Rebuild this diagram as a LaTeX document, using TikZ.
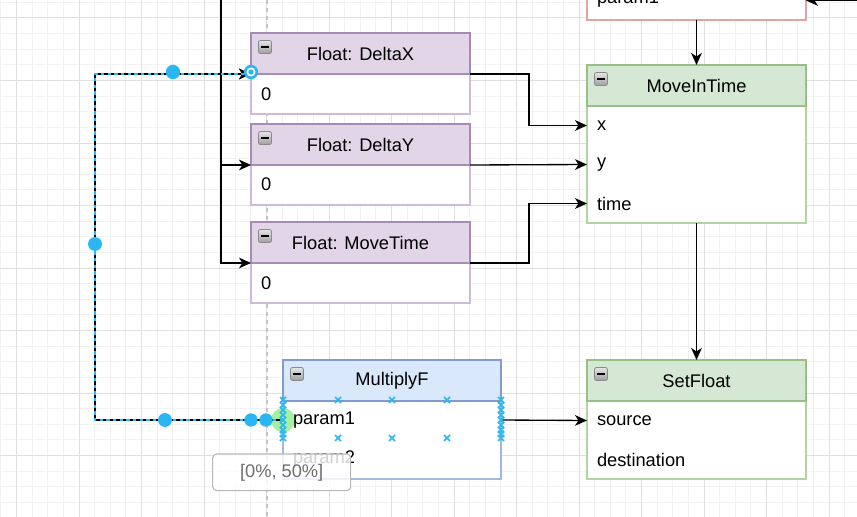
\documentclass[tikz,border=0pt]{standalone}
\usepackage{fontspec}
\setmainfont{Liberation Sans}
\usetikzlibrary{arrows.meta,calc}
\definecolor{purpF}{HTML}{E1D5E7}
\definecolor{purpS}{HTML}{A58BB5}
\definecolor{purpL}{HTML}{CDBBD8}
\definecolor{grnF}{HTML}{D5E8D4}
\definecolor{grnS}{HTML}{97C086}
\definecolor{grnL}{HTML}{B3D3A3}
\definecolor{bluF}{HTML}{DAE8FC}
\definecolor{bluS}{HTML}{7F9CCB}
\definecolor{bluL}{HTML}{A3B9DB}
\definecolor{redS}{HTML}{E3A3A3}
\definecolor{selB}{HTML}{29B6F2}
\definecolor{gridMaj}{HTML}{DFDFDF}
\definecolor{gridMin}{HTML}{F2F2F2}
\definecolor{guideG}{HTML}{C4C4C4}
\definecolor{tipG}{HTML}{6E6E6E}
\definecolor{tipB}{HTML}{B8B8B8}
\definecolor{hoverG}{HTML}{A4F09E}
\definecolor{iconS}{HTML}{8A8A8A}
\newcommand\fs{\fontsize{13.7pt}{16pt}\selectfont}
\newcommand\cicon[2]{%
  \draw[draw=iconS, line width=0.6pt, top color=white!90!black, bottom color=white!62!black, rounded corners=1.5pt]
    ({#1-6.5},{#2-6.5}) rectangle ({#1+6.5},{#2+6.5});
  \draw[line width=1.6pt] ({#1-4},{#2}) -- ({#1+4},{#2});}
\tikzset{
  hdr/.style={rectangle, draw, anchor=north west, inner sep=0pt, outer sep=0pt,
    minimum width=164.25pt, minimum height=30.75pt, font=\fs, line width=0.8pt},
  hdrP/.style={hdr, fill=purpF, draw=purpS},
  hdrG/.style={hdr, fill=grnF, draw=grnS},
  hdrB/.style={hdr, fill=bluF, draw=bluS, minimum width=163.5pt},
  boxbody/.style={rectangle, fill=white, anchor=north west, inner sep=0pt, outer sep=0pt,
    minimum width=164.25pt, line width=0.8pt},
  row/.style={anchor=west, inner xsep=7.5pt, inner ysep=0pt, outer sep=0pt,
    minimum height=29.25pt, text width=149.25pt, align=left, font=\fs},
  edge/.style={draw=black, line width=1pt, -{Stealth[length=9pt,width=8pt,inset=2.6pt]}},
  seldash/.style={draw=selB, line width=1.2pt, dash pattern=on 2.5pt off 2.5pt},
  xmark/.style={draw=selB, line width=1.1pt},
  tooltip/.style={draw=tipB, fill=white, fill opacity=0.82, text opacity=1, rounded corners=3pt,
    minimum width=103.5pt, minimum height=27.5pt, text=tipG, font=\fs, line width=0.8pt},
}
\begin{document}
\begin{tikzpicture}[x=0.75pt,y=-0.75pt]
\useasboundingbox (0,0) rectangle (857,517);
\clip (0,0) rectangle (857,517);
\fill[white] (0,0) rectangle (857,517);
% grid
\foreach \i in {0,...,55} \draw[gridMin, line width=0.75pt] ({0.875+15.625*\i},0) -- ({0.875+15.625*\i},517);
\foreach \i in {0,...,33} \draw[gridMin, line width=0.75pt] (0,{2.375+15.625*\i}) -- (857,{2.375+15.625*\i});
\foreach \i in {0,...,13} \draw[gridMaj, line width=0.75pt] ({16.5+62.5*\i},0) -- ({16.5+62.5*\i},517);
\foreach \i in {0,...,8} \draw[gridMaj, line width=0.75pt] (0,{18+62.5*\i}) -- (857,{18+62.5*\i});
% guide
\draw[guideG, line width=0.8pt, dash pattern=on 3pt off 3pt] (267,0) -- (267,517);

% top (partially visible) box
\node[boxbody, draw=redS, anchor=south west, minimum height=45pt] (topb) at (587,20) {};
\node[row] (tp1) at (587,-1) {param1};

% Float: DeltaX
\node[boxbody, draw=purpL, minimum height=30pt] (dxb) at (251,74) {};
\node[hdrP] (dxh) at (251,33) {Float: DeltaX};
\node[row] (dx0) at (251,94) {0};
\cicon{265}{47}
% Float: DeltaY
\node[boxbody, draw=purpL, minimum height=30pt] (dyb) at (251,165) {};
\node[hdrP] (dyh) at (251,124) {Float: DeltaY};
\node[row] (dy0) at (251,184.5) {0};
\cicon{265}{138}
% Float: MoveTime
\node[boxbody, draw=purpL, minimum height=30pt] (mtb) at (251,263) {};
\node[hdrP] (mth) at (251,222) {Float: MoveTime};
\node[row] (mt0) at (251,283) {0};
\cicon{265}{236}

% MoveInTime
\node[boxbody, draw=grnL, minimum height=87.75pt] (mib) at (587,106) {};
\node[hdrG] (mih) at (587,65) {MoveInTime};
\node[row] (mix) at (587,125.5) {x};
\node[row] (miy) at (587,164.5) {y};
\node[row] (mitime) at (587,203.5) {time};
\cicon{601}{79}

% SetFloat
\node[boxbody, draw=grnL, minimum height=58.5pt] (sfb) at (587,401) {};
\node[hdrG] (sfh) at (587,360) {SetFloat};
\node[row] (sfsrc) at (587,420.5) {source};
\node[row] (sfdst) at (587,459.5) {destination};
\cicon{601}{374}

% MultiplyF
\node[boxbody, draw=bluL, minimum width=163.5pt, minimum height=58.5pt] (mfb) at (283,401) {};
\node[hdrB] (mfh) at (283,360) {MultiplyF};
\cicon{297}{374}

% connectors
\coordinate (srcA) at (221,-10);
\coordinate (inR) at (880,0.5);
\coordinate (bendL) at (95,244);
\draw[edge] (srcA) |- (dxh.south west);
\draw[edge] (srcA) |- (dyh.south west);
\draw[edge] (srcA) |- (mth.south west);
\draw[edge] (inR) -- (topb.east |- inR);
\draw[edge] (topb.south) -- (mih.north);
\draw[edge] (dxh.south east) -- ++(59,0) |- (mix.west);
\draw[edge] (dyh.south east) -- (miy.west);
\draw[edge] (mth.south east) -- ++(59,0) |- (mitime.west);
\draw[edge] (mib.south) -- (sfh.north);

% hover circle under the row text
\fill[hoverG] (283,420) circle[radius=9pt];
\node[row, text width=148.5pt] (mfp1) at (283,420) {param1};
\node[row, text width=148.5pt] (mfp2) at (283,459.5) {param2};
\draw[edge] (mfp1.east) -- (sfsrc.west);

% selected connector
\draw[edge] (mfp1.west) -| (bendL) |- (dxh.south west);
\draw[seldash] (mfp1.west) -| (bendL) |- ($(dxh.south west)+(-4,0)$);

% connection markers
\foreach \cx in {283,338,392,447,501} {
  \foreach \cy in {400,438} {
    \draw[xmark] ({\cx-3},{\cy-3}) -- ({\cx+3},{\cy+3}) ({\cx-3},{\cy+3}) -- ({\cx+3},{\cy-3});
  }
}
\foreach \cx in {283,501} {
  \foreach \cy in {405,410,415,420,425,430,434} {
    \draw[xmark] ({\cx-3},{\cy-3}) -- ({\cx+3},{\cy+3}) ({\cx-3},{\cy+3}) -- ({\cx+3},{\cy-3});
  }
}
% handles
\fill[selB] (173,72) circle[radius=5.4pt];
\fill[selB] (bendL) circle[radius=5.2pt];
\fill[selB] (165,420) circle[radius=5.2pt];
\fill[selB] (251,420) circle[radius=5pt];
\fill[selB] (266,420) circle[radius=5pt];
\fill[selB] (251,72) circle[radius=5.4pt];
\fill[white] (251,72) circle[radius=3.4pt];
\fill[selB] (251,72) circle[radius=2pt];

% tooltip
\node[tooltip] (tip) at (281.7,472.3) {[0\%, 50\%]};
\end{tikzpicture}
\end{document}
